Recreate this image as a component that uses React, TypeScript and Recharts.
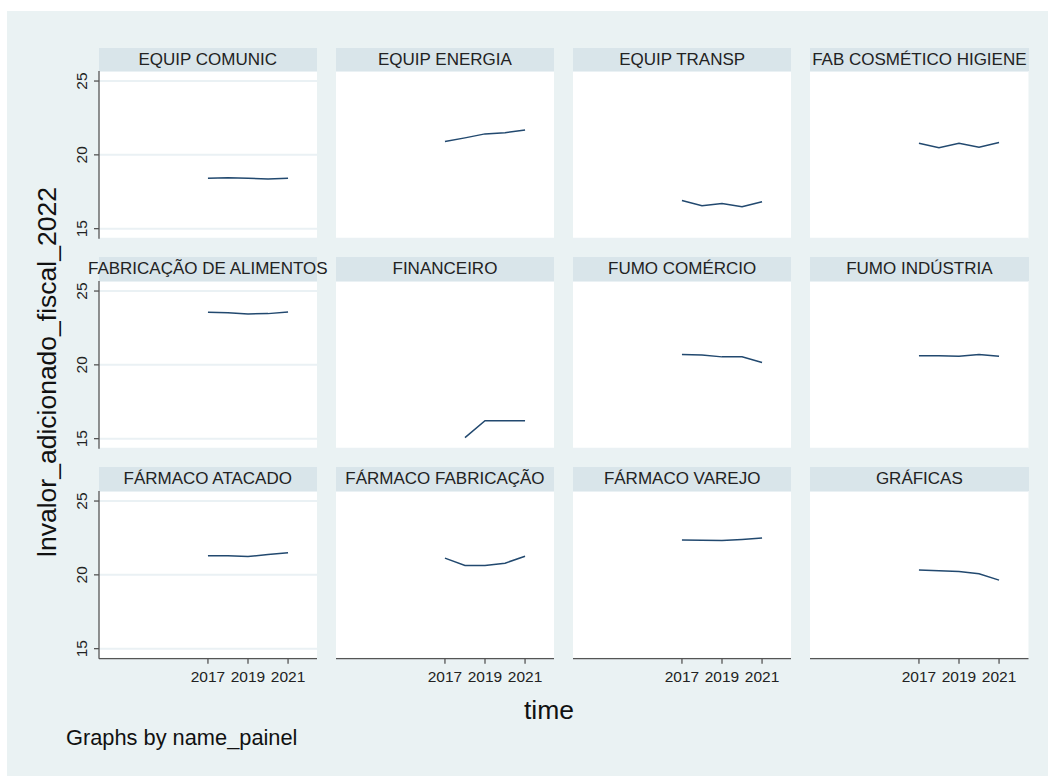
import { LineChart, Line, XAxis, YAxis, CartesianGrid } from 'recharts';

const YEARS = [2017, 2018, 2019, 2020, 2021];
const X_TICKS = [2017, 2019, 2021];
const Y_TICKS = [15, 20, 25];

const PANEL_NAMES = [
  'EQUIP COMUNIC', 'EQUIP ENERGIA', 'EQUIP TRANSP', 'FAB COSMÉTICO HIGIENE',
  'FABRICAÇÃO DE ALIMENTOS', 'FINANCEIRO', 'FUMO COMÉRCIO', 'FUMO INDÚSTRIA',
  'FÁRMACO ATACADO', 'FÁRMACO FABRICAÇÃO', 'FÁRMACO VAREJO', 'GRÁFICAS',
];

const equipComunic = [18.41, 18.44, 18.42, 18.37, 18.41];
const equipEnergia = [20.9, 21.15, 21.42, 21.5, 21.69];
const equipTransp = [16.91, 16.55, 16.71, 16.49, 16.82];
const fabCosmetico = [20.79, 20.49, 20.79, 20.52, 20.83];
const fabAlimentos = [23.56, 23.53, 23.45, 23.47, 23.58];
const financeiro = [null, 15.07, 16.22, 16.22, 16.22];
const fumoComercio = [20.7, 20.66, 20.54, 20.54, 20.16];
const fumoIndustria = [20.61, 20.61, 20.59, 20.7, 20.59];
const farmacoAtacado = [21.3, 21.29, 21.24, 21.38, 21.49];
const farmacoFabricacao = [21.13, 20.63, 20.63, 20.79, 21.26];
const farmacoVarejo = [22.36, 22.34, 22.33, 22.4, 22.5];
const graficas = [20.32, 20.27, 20.22, 20.07, 19.64];

const SERIES = [
  equipComunic, equipEnergia, equipTransp, fabCosmetico,
  fabAlimentos, financeiro, fumoComercio, fumoIndustria,
  farmacoAtacado, farmacoFabricacao, farmacoVarejo, graficas,
];

const FONT = '"Liberation Sans", Arial, sans-serif';
const PLOT_W = 218.5;
const PLOT_H = 167.7;
const COL_X = 98.5;
const COL_STEP = 237.2;
const ROW_Y = 71;
const ROW_STEP = 209.8;
const STRIP_H = 23.5;
const AXIS_W = 60;
const AXIS_H = 40;

const YTick = (props: any) => {
  const { y, payload } = props;
  const cx = 42.2;
  return (
    <text x={cx} y={y} transform={`rotate(-90 ${cx} ${y})`} textAnchor="middle" dominantBaseline="central"
      fontSize={15.5} fontFamily={FONT} fill="#222">
      {payload.value}
    </text>
  );
};

const Panel = ({ idx }: { idx: number }) => {
  const col = idx % 4;
  const row = Math.floor(idx / 4);
  const left = COL_X + col * COL_STEP;
  const top = ROW_Y + row * ROW_STEP;
  const showY = col === 0;
  const showX = row === 2;
  const data = YEARS.map((year, i) => ({ year, v: SERIES[idx][i] }));

  return (
    <>
      <div style={{
        position: 'absolute', left, top: top - STRIP_H, width: PLOT_W, height: STRIP_H,
        background: '#d9e5ea', color: '#222', fontFamily: FONT, fontSize: 17,
        lineHeight: `${STRIP_H}px`, textAlign: 'center', whiteSpace: 'nowrap',
        display: 'flex', justifyContent: 'center',
      }}>
        <span>{PANEL_NAMES[idx]}</span>
      </div>
      <div style={{ position: 'absolute', left: left - AXIS_W, top }}>
        <LineChart width={PLOT_W + AXIS_W} height={PLOT_H + AXIS_H} data={data}
          margin={{ top: 0, right: 0, bottom: 0, left: 0 }}>
          <CartesianGrid vertical={false} fill="#ffffff" stroke="#eaf1f4" strokeWidth={2} />
          <XAxis dataKey="year" type="number" domain={[2011.56, 2022.47]} ticks={X_TICKS}
            allowDataOverflow height={AXIS_H}
            axisLine={showX ? { stroke: '#555', strokeWidth: 1.3 } : false}
            tickLine={showX ? { stroke: '#555', strokeWidth: 1.3 } : false}
            tickSize={5} tickMargin={7}
            tick={showX ? { fontSize: 15.5, fontFamily: FONT, fill: '#222' } : false} />
          <YAxis type="number" domain={[14.32, 25.68]} ticks={Y_TICKS} allowDataOverflow width={AXIS_W}
            axisLine={showY ? { stroke: '#555', strokeWidth: 1.3 } : false}
            tickLine={showY ? { stroke: '#555', strokeWidth: 1.3 } : false}
            tickSize={5}
            tick={showY ? <YTick /> : false} />
          <Line type="linear" dataKey="v" stroke="#22496f" strokeWidth={1.5} dot={false}
            isAnimationActive={false} connectNulls={false} />
        </LineChart>
      </div>
    </>
  );
};

export default function App() {
  return (
    <div style={{ position: 'absolute', left: 0, top: 0, width: 1054, height: 776, background: '#fff', overflow: 'hidden' }}>
      <div style={{ position: 'absolute', left: 7, top: 11, width: 1041, height: 765, background: '#eaf2f3' }} />
      {PANEL_NAMES.map((_, i) => <Panel key={i} idx={i} />)}
      <div style={{
        position: 'absolute', left: 47, top: 372, transform: 'translate(-50%, -50%) rotate(-90deg)',
        fontFamily: FONT, fontSize: 26.5, color: '#111', whiteSpace: 'nowrap',
      }}>
        lnvalor_adicionado_fiscal_2022
      </div>
      <div style={{
        position: 'absolute', left: 549, top: 710, transform: 'translate(-50%, -50%)',
        fontFamily: FONT, fontSize: 26.5, color: '#111', whiteSpace: 'nowrap',
      }}>
        time
      </div>
      <div style={{
        position: 'absolute', left: 66, top: 738, transform: 'translateY(-50%)',
        fontFamily: FONT, fontSize: 21.8, color: '#111', whiteSpace: 'nowrap',
      }}>
        Graphs by name_painel
      </div>
    </div>
  );
}
